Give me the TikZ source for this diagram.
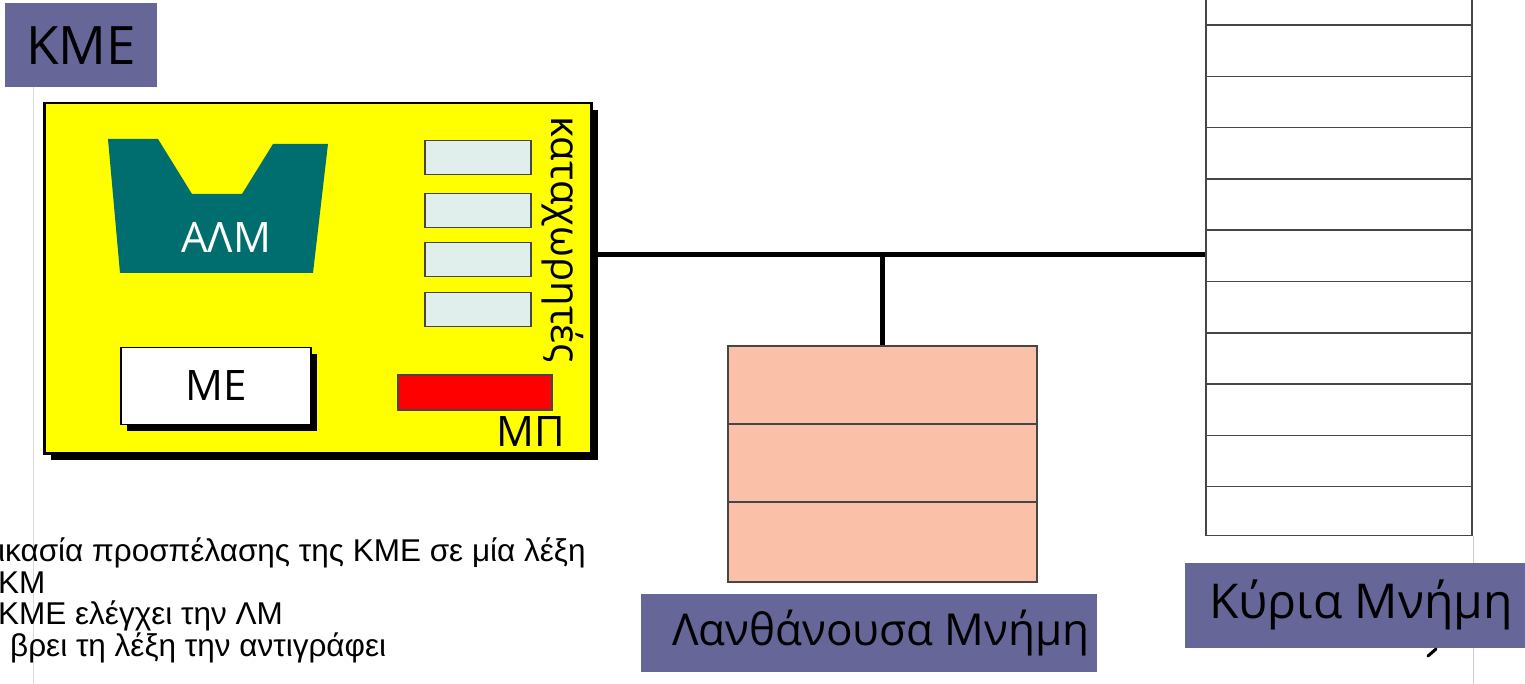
\documentclass[tikz,border=0pt]{standalone}
\usepackage{fontspec}
\setmainfont{Liberation Sans}
\newfontfamily\tagfont{Open Sans}
\usetikzlibrary{positioning,shadows}

\definecolor{tagblue}{RGB}{102,102,153}
\definecolor{cpuyellow}{RGB}{255,255,0}
\definecolor{pcred}{RGB}{255,0,0}
\definecolor{aluteal}{RGB}{0,110,110}
\definecolor{regfill}{RGB}{224,238,236}
\definecolor{cachefill}{RGB}{251,192,168}
\definecolor{edgegray}{RGB}{70,70,70}

\tikzset{
    tag/.style={fill=tagblue, inner sep=0pt, text=black},
    hardshadow/.style={drop shadow={shadow xshift=#1, shadow yshift=-#1, fill=black, opacity=1}},
    reg/.style={draw=edgegray, line width=1.5pt, fill=regfill, minimum width=106pt, minimum height=34pt, anchor=north west},
    cell/.style={draw=edgegray, line width=1.5pt},
    bus/.style={line width=5pt}
}

\begin{document}
\begin{tikzpicture}[x=1pt, y=-1pt]
    \clip (0,0) rectangle (1525,684);
    \fill[white] (0,0) rectangle (1525,684);

    % faint page edges
    \draw[gray!30, line width=1pt] (33,87) -- (33,684);
    \draw[gray!40, line width=1pt] (1473,536) -- (1473,684);

    % CPU
    \node[tag, minimum width=152pt, minimum height=84pt, anchor=north west,
          font=\tagfont\fontsize{53}{53}\selectfont] (cpulabel) at (5,3) {ΚΜΕ};
    \node[draw, line width=2.5pt, fill=cpuyellow, hardshadow=7pt, minimum width=547pt,
          minimum height=350pt, anchor=north west] (cpu) at (43,102) {};

    % ALU
    \fill[aluteal] (108,139) -- (158,139) -- (192,194) -- (242,194) -- (273,144)
        -- (328,144) -- (313,273) -- (120,273) -- cycle;
    \node[text=white, font=\tagfont\fontsize{42}{42}\selectfont] (alu) at (226,237) {ΑΛΜ};

    % Registers
    \foreach \y [count=\i] in {140,193,242,292}
        \node[reg] (reg\i) at (424,\y) {};
    \node[rotate=-90, font=\tagfont\fontsize{40}{40}\selectfont] (regname) at (563,240) {καταχωρητές};

    % Control unit
    \node[draw, line width=1.5pt, fill=white, hardshadow=6pt, minimum width=190pt,
          minimum height=77pt, font=\tagfont\fontsize{42}{42}\selectfont] (cu) at (216,386) {ΜΕ};

    % Program counter
    \node[draw=edgegray, line width=1.5pt, fill=pcred, minimum width=154pt, minimum height=35pt,
          anchor=north west] (pc) at (397,374) {};
    \node[font=\tagfont\fontsize{42}{42}\selectfont] (pcname) at (531,432) {ΜΠ};

    % Cache
    \node[draw=edgegray, line width=1.5pt, fill=cachefill, minimum width=309pt,
          minimum height=236pt, anchor=north west] (cache) at (727,345) {};
    \foreach \y in {424,502}
        \draw[cell] (cache.west |- 0,\y) -- (cache.east |- 0,\y);
    \node[tag, minimum width=456pt, minimum height=78pt,
          font=\tagfont\fontsize{44}{44}\selectfont] (cachelabel) at (869,633) {\hspace*{24pt}Λανθάνουσα Μνήμη};

    % Main memory
    \node[draw=edgegray, line width=1.5pt, fill=white, minimum width=266pt,
          minimum height=546pt, anchor=south west] (mem) at (1205,536) {};
    \foreach \i in {0,...,9}
        \draw[cell] (mem.west |- 0,25+51.3*\i) -- (mem.east |- 0,25+51.3*\i);
    \node[tag, minimum width=352pt, minimum height=85pt,
          font=\tagfont\fontsize{48}{48}\selectfont] (memlabel) at (1361,605) {Κύρια Μνήμη};
    \draw[line width=3pt, line cap=round] (1428,656) -- (1436,649);

    % Bus
    \coordinate (tap) at (cache.north |- 0,255);
    \draw[bus] (cpu.east |- tap) -- (mem.west |- tap);
    \draw[bus] (tap) -- (cache.north);

    % Notes
    \node[anchor=north west, align=left, inner sep=0pt,
          font=\fontsize{31.5}{31.5}\selectfont] (notes) at (-2,538)
        {ικασία προσπέλασης της ΚΜΕ σε μία λέξη\\
         ΚΜ\\
         ΚΜΕ ελέγχει την ΛΜ\\
         \hspace*{12pt}βρει τη λέξη την αντιγράφει};
\end{tikzpicture}
\end{document}
